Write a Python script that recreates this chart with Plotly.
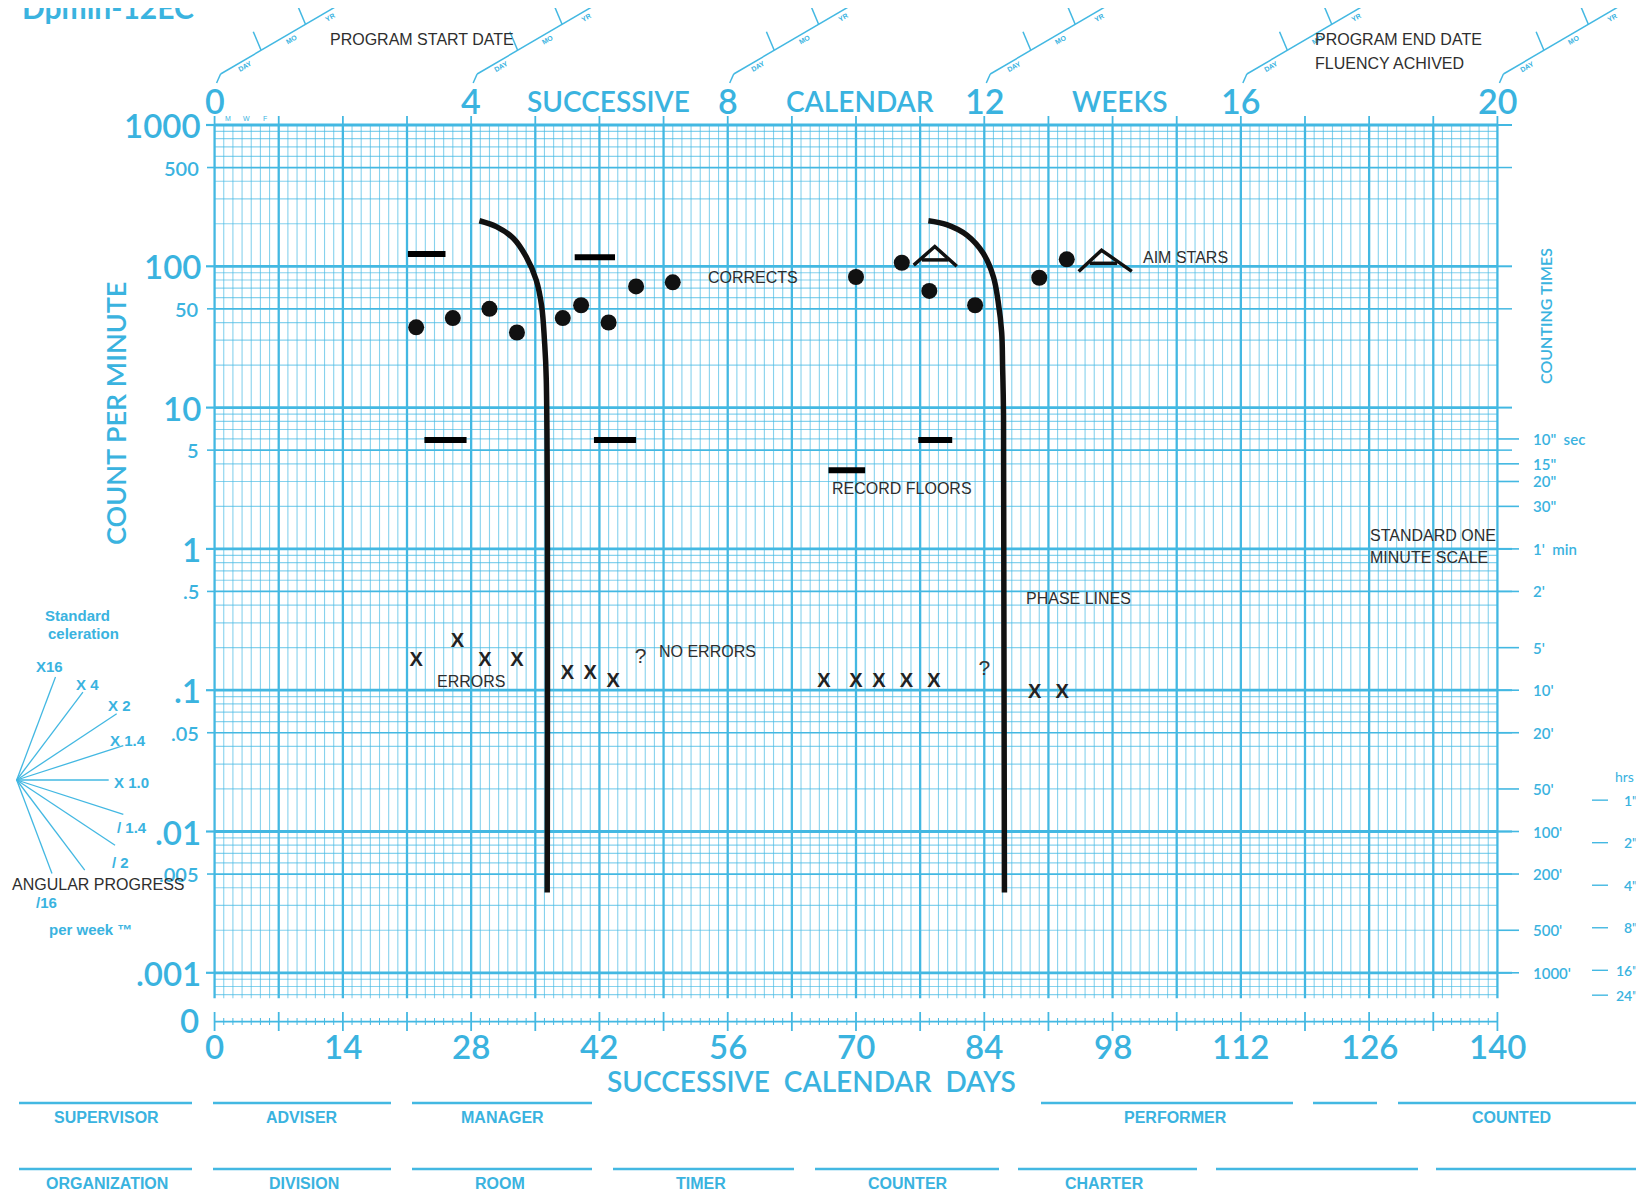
import numpy as np
import plotly.graph_objects as go

# ---------------- data ----------------
correct_days   = [22, 26, 30, 33, 38, 40, 43, 46, 50, 70, 75, 78, 83, 90, 93]
correct_counts = [37, 43, 50, 34, 43, 53, 40, 72, 77, 84, 106, 67, 53, 83, 112]

error_days   = [22, 26.5, 29.5, 33, 38.5, 41, 43.5, 66.5, 70, 72.5, 75.5, 78.5, 89.5, 92.5]
error_counts = [0.16, 0.22, 0.16, 0.16, 0.13, 0.13, 0.115, 0.115, 0.115, 0.115, 0.115, 0.115, 0.095, 0.095]

unknown_days   = [46.5, 84]
unknown_counts = [0.17, 0.14]

ceiling_start = [21.1, 39.3]
ceiling_end   = [25.2, 43.7]
ceiling_count = [122, 116]

floor_start = [22.9, 41.4, 67.0, 76.8]
floor_end   = [27.5, 46.0, 71.0, 80.5]
floor_count = [5.9, 5.9, 3.6, 5.9]

phase1_days   = [28.9, 30.8, 32.6, 34.0, 35.1, 35.7, 36.0, 36.2, 36.3]
phase1_counts = [210, 190, 158, 117, 80, 52, 30, 15.7, 0.0037]
phase2_days   = [77.9, 79.9, 82.1, 83.9, 85.0, 85.5, 85.9, 86.0, 86.1, 86.2]
phase2_counts = [210, 197, 166, 123, 84, 57, 34, 19.5, 8.8, 0.0037]

aim1_days   = [76.3, 78.6, 81.0]
aim1_counts = [102, 138, 100]
aim1_bar_days = [77.2, 80.1]
aim1_bar_count = 111
aim2_days   = [94.3, 96.8, 100.1]
aim2_counts = [92, 130, 92]
aim2_bar_days = [95.5, 98.5]
aim2_bar_count = 105

count_ticks_major = [1000, 100, 10, 1, 0.1, 0.01, 0.001]
count_text_major  = ["1000", "100", "10", "1", ".1", ".01", ".001"]
count_ticks_minor = [500, 50, 5, 0.5, 0.05, 0.005]
count_text_minor  = ["500", "50", "5", ".5", ".05", ".005"]
day_ticks  = [0, 14, 28, 42, 56, 70, 84, 98, 112, 126, 140]
week_ticks = [0, 4, 8, 12, 16, 20]
time_ticks = [6, 4, 3, 2, 1, 0.5, 0.2, 0.1, 0.05, 0.02, 0.01, 0.005, 0.002, 0.001]
time_text  = ['10"  sec', '15"', '20"', '30"', "1'  min", "2'", "5'", "10'", "20'", "50'",
              "100'", "200'", "500'", "1000'"]
hour_ticks = [1, 2, 4, 8, 16, 24]
hour_text  = ['1"', '2"', '4"', '8"', '16"', '24"']
celerations = [16, 4, 2, 1.4, 1.0, 1 / 1.4, 1 / 2, 1 / 4, 1 / 16]
cel_text    = ["X16", "X 4", "X 2", "X 1.4", "X 1.0", "/ 1.4", "/ 2", "", "/16"]
cel_label_px = [(49, 666), (87, 684), (119, 705), (128, 740), (131, 782), (132, 827), (120, 862), None, (47, 902)]
cel_len = [110, 110, 120, 112, 92, 112, 118, 113, 100]

# ---------------- geometry (screen pixels; page body has an 8px margin) ----------------
OFF = 8
FW, FH = 1644 - OFF, 1195 - OFF
L_S, T_S = 210, 122          # screen position of plot area's top-left
W, H = 1292, 913
L, T = L_S - OFF, T_S - OFF
R = FW - L - W
B = FH - T - H
XR = [-0.5, 140.5]
PXDEC = 141.3
YTOP = 3 + (125 - T_S) / PXDEC
YR = [YTOP - H / PXDEC, YTOP]

CY = '#43b8e2'
CYT = '#3ab3df'
CYTHIN = 'rgba(70,186,228,0.65)'
DARK = '#2e2e2e'
NARROW = "Liberation Sans Narrow, Arial Narrow, Liberation Sans, sans-serif"
ROUND = "Lato, Open Sans, sans-serif"


def xpaper(px):
    return (px - L_S) / W


def ypaper(py):
    return (T_S + H - py) / H


def day_px(d):
    return L_S + (d - XR[0]) / (XR[1] - XR[0]) * W


def val_py(v):
    return T_S + (YR[1] - np.log10(v)) / (YR[1] - YR[0]) * H


def py_val(py):
    return 10 ** (YR[1] - (py - T_S) / H * (YR[1] - YR[0]))


fig = go.Figure()


def add_lines(xs_list, ys_list, color, width, shape='linear'):
    X, Y = [], []
    for xs, ys in zip(xs_list, ys_list):
        X += list(xs) + [None]
        Y += list(ys) + [None]
    fig.add_trace(go.Scatter(x=X, y=Y, mode='lines', line=dict(color=color, width=width, shape=shape),
                             hoverinfo='skip', showlegend=False))


# ---------------- grid ----------------
GB = 0.00066
thin_days = [d for d in range(141) if d % 7]
week_days = [d for d in range(141) if d % 7 == 0]
add_lines([[d, d] for d in thin_days], [[GB, 1000]] * len(thin_days), CYTHIN, 1.1)

hvals_thin, hvals_mid, hvals_thick = [], [], []
for k in range(-4, 4):
    for m in range(1, 10):
        v = m * 10.0 ** k
        if v < GB * 0.999 or v > 1000 * 1.001:
            continue
        if m == 1:
            hvals_thick.append(v)
        elif m == 5:
            hvals_mid.append(v)
        else:
            hvals_thin.append(v)
add_lines([[0, 140]] * len(hvals_thin), [[v, v] for v in hvals_thin], CYTHIN, 1.2)
add_lines([[0, 140]] * len(hvals_mid), [[v, v] for v in hvals_mid], CY, 1.7)
add_lines([[d, d] for d in week_days], [[GB, 1000]] * len(week_days), CY, 2.3)
add_lines([[0, 140]] * len(hvals_thick), [[v, v] for v in hvals_thick], CY, 2.8)

# zero-row ruler
yr0 = py_val(1021.7)
add_lines([[0, 140]], [[yr0, yr0]], CY, 1.8)
add_lines([[d, d] for d in thin_days], [[py_val(1018), py_val(1025)]] * len(thin_days), CY, 1)
add_lines([[d, d] for d in week_days], [[py_val(1012), py_val(1031)]] * len(week_days), CY, 1.8)

# ---------------- data marks ----------------
add_lines([[s, e] for s, e in zip(ceiling_start, ceiling_end)], [[c, c] for c in ceiling_count], 'black', 6)
add_lines([[s, e] for s, e in zip(floor_start, floor_end)], [[c, c] for c in floor_count], 'black', 6)
add_lines([phase1_days, phase2_days], [phase1_counts, phase2_counts], '#111', 5.5, shape='spline')
add_lines([aim1_days, aim1_bar_days, aim2_days, aim2_bar_days],
          [aim1_counts, [aim1_bar_count] * 2, aim2_counts, [aim2_bar_count] * 2], '#111', 3.5)
fig.add_trace(go.Scatter(x=correct_days, y=correct_counts, mode='markers',
                         marker=dict(symbol='circle', size=16, color='#111'), showlegend=False, hoverinfo='skip'))
fig.add_trace(go.Scatter(x=error_days, y=error_counts, mode='text', text=['X'] * len(error_days),
                         textfont=dict(family='Liberation Sans, sans-serif', size=20, color='#222', weight='bold'),
                         showlegend=False, hoverinfo='skip'))
fig.add_trace(go.Scatter(x=unknown_days, y=unknown_counts, mode='text', text=['?'] * len(unknown_days),
                         textfont=dict(family='Liberation Sans, sans-serif', size=21, color='#333'),
                         showlegend=False, hoverinfo='skip'))

# ---------------- annotations & shapes ----------------
anns = []
shapes = []


def ann(text, px=None, py=None, size=14, color=CYT, family=ROUND, xanchor='center', yanchor='middle',
        angle=0, x=None, y=None, xref='paper', yref='paper', weight='normal'):
    anns.append(dict(text=text, x=x if x is not None else xpaper(px), y=y if y is not None else ypaper(py),
                     xref=xref, yref=yref, showarrow=False, xanchor=xanchor, yanchor=yanchor,
                     textangle=angle, font=dict(size=size, color=color, family=family, weight=weight)))


def pline(x0, y0, x1, y1, color=CY, width=1.5):
    shapes.append(dict(type='line', xref='paper', yref='paper', x0=xpaper(x0), y0=ypaper(y0),
                       x1=xpaper(x1), y1=ypaper(y1), line=dict(color=color, width=width)))


SEMI = 600

# left y labels + ticks
for v, t in zip(count_ticks_major, count_text_major):
    ann(t, px=203, y=np.log10(v), yref='y', size=33, xanchor='right', weight=SEMI)
    pline(206, val_py(v), 215, val_py(v), CY, 2.2)
for v, t in zip(count_ticks_minor, count_text_minor):
    ann(t, px=201, y=np.log10(v), yref='y', size=20, xanchor='right', weight=SEMI)
    pline(207, val_py(v), 215, val_py(v), CY, 1.6)
ann("0", px=201, py=1020, size=33, xanchor='right', weight=SEMI)
ann("COUNT PER MINUTE", px=115, py=414, size=27, angle=-90, weight=SEMI)

# bottom day labels
for d in day_ticks:
    ann(str(d), x=d, xref='x', py=1046, size=33, weight=SEMI)
ann("SUCCESSIVE  CALENDAR  DAYS", px=811, py=1081, size=28, weight=SEMI)

# top week labels & ticks
for w in week_ticks:
    ann(str(w), x=w * 7, xref='x', py=101, size=34, weight=SEMI)
for d in week_days:
    shapes.append(dict(type='line', xref='x', yref='paper', x0=d, x1=d, y0=ypaper(125), y1=ypaper(116),
                       line=dict(color=CY, width=1.8)))
for d, t in zip([1.5, 3.5, 5.5], ["M", "W", "F"]):
    ann(t, x=d, xref='x', py=118, size=7, family='Liberation Sans, sans-serif')
ann("SUCCESSIVE", px=608, py=101, size=28, weight=SEMI)
ann("CALENDAR", px=860, py=101, size=28, weight=SEMI)
ann("WEEKS", px=1120, py=101, size=28, weight=SEMI)

# diagonal date scales at top
for w in week_ticks:
    x0 = day_px(w * 7)
    pline(x0 + 2, 83, x0 + 6, 74, CY, 1.5)
    pline(x0 + 6, 74, x0 + 124, 5, CY, 1.5)
    pline(x0 + 46.4, 50, x0 + 38.7, 31.7, CY, 1.5)
    pline(x0 + 91, 24.5, x0 + 83.5, 6.7, CY, 1.5)
    for t, dx, yy in [("DAY", 30, 67), ("MO", 77, 40), ("YR", 115, 17)]:
        ann(t, px=x0 + dx, py=yy, size=7, angle=-30, family='Liberation Sans, sans-serif', weight='bold')

# chart title, cut off at the top edge as in the original
ann("Dpmin-12EC", px=20, py=27, size=30, xanchor='left', yanchor='bottom', weight='bold')

# right counting-time scale
for v in count_ticks_major + count_ticks_minor:
    pline(1497, val_py(v), 1512, val_py(v), CY, 2.0 if v in count_ticks_major else 1.5)
for v, t in zip(time_ticks, time_text):
    pline(1497, val_py(v), 1519, val_py(v), CY, 1.6)
    ann(t, px=1531, py=val_py(v), size=15, xanchor='left', weight=SEMI)
ann("hrs", px=1624, py=776, size=14)
for h, t in zip(hour_ticks, hour_text):
    vy = val_py(1.0 / (60 * h))
    pline(1592, vy, 1608, vy, CY, 1.4)
    ann(t, px=1640, py=vy, size=14, xanchor='right', weight=SEMI)
ann("COUNTING TIMES", px=1545, py=316, size=16, angle=-90, weight=SEMI)

# celeration fan
ox, oy = 16.7, 780
for c, t, lp, ln in zip(celerations, cel_text, cel_label_px, cel_len):
    dx, dy = 7 * 9.163, -np.log10(c) * PXDEC
    n = np.hypot(dx, dy)
    pline(ox, oy, ox + dx / n * ln, oy + dy / n * ln, CY, 1.3)
    if lp is not None and t:
        ann(t, px=lp[0], py=lp[1], size=15, family=NARROW, weight='bold')
ann("Standard", px=77, py=615, size=15, family=NARROW, weight='bold')
ann("celeration", px=83, py=633, size=15, family=NARROW, weight='bold')
ann("per week ™", px=90, py=929, size=15, family=NARROW, weight='bold')

# dark hand-written style labels
dark = [("PROGRAM START DATE", 328, 40), ("PROGRAM END DATE", 1313, 40), ("FLUENCY ACHIVED", 1313, 63),
        ("CORRECTS", 706, 277), ("AIM STARS", 1141, 257), ("RECORD FLOORS", 830, 488),
        ("STANDARD ONE", 1368, 535), ("MINUTE SCALE", 1368, 557), ("PHASE LINES", 1024, 598),
        ("NO ERRORS", 657, 651), ("ERRORS", 435, 681), ("ANGULAR PROGRESS", 10, 884)]
for t, x, y in dark:
    ann(t, px=x, py=y, size=16, color=DARK, family=NARROW, xanchor='left')

# footer
row1 = [(19, 192), (213, 391), (412, 592), (1041, 1293), (1313, 1377), (1398, 1639)]
row2 = [(19, 192), (213, 391), (412, 592), (613, 794), (815, 999), (1018, 1197), (1216, 1418), (1436, 1639)]
for a, b in row1:
    pline(a, 1103, b, 1103, CY, 2.5)
for a, b in row2:
    pline(a, 1169, b, 1169, CY, 2.5)
for t, x in [("SUPERVISOR", 106), ("ADVISER", 302), ("MANAGER", 502), ("PERFORMER", 1175), ("COUNTED", 1511)]:
    ann(t, px=x, py=1117, size=16, family=NARROW, weight='bold')
for t, x in [("ORGANIZATION", 107), ("DIVISION", 304), ("ROOM", 500), ("TIMER", 701), ("COUNTER", 908),
             ("CHARTER", 1104)]:
    ann(t, px=x, py=1183, size=16, family=NARROW, weight='bold')

fig.update_layout(
    width=FW, height=FH, margin=dict(l=L, r=R, t=T, b=B, pad=0, autoexpand=False),
    paper_bgcolor='white', plot_bgcolor='white', showlegend=False,
    xaxis=dict(range=XR, showgrid=False, zeroline=False, showticklabels=False, ticks='', showline=False,
               fixedrange=True),
    yaxis=dict(type='log', range=YR, showgrid=False, zeroline=False, showticklabels=False, ticks='',
               showline=False, fixedrange=True),
    annotations=anns, shapes=shapes,
)
fig.write_html("out.html", include_plotlyjs=True, config={'displayModeBar': False})
